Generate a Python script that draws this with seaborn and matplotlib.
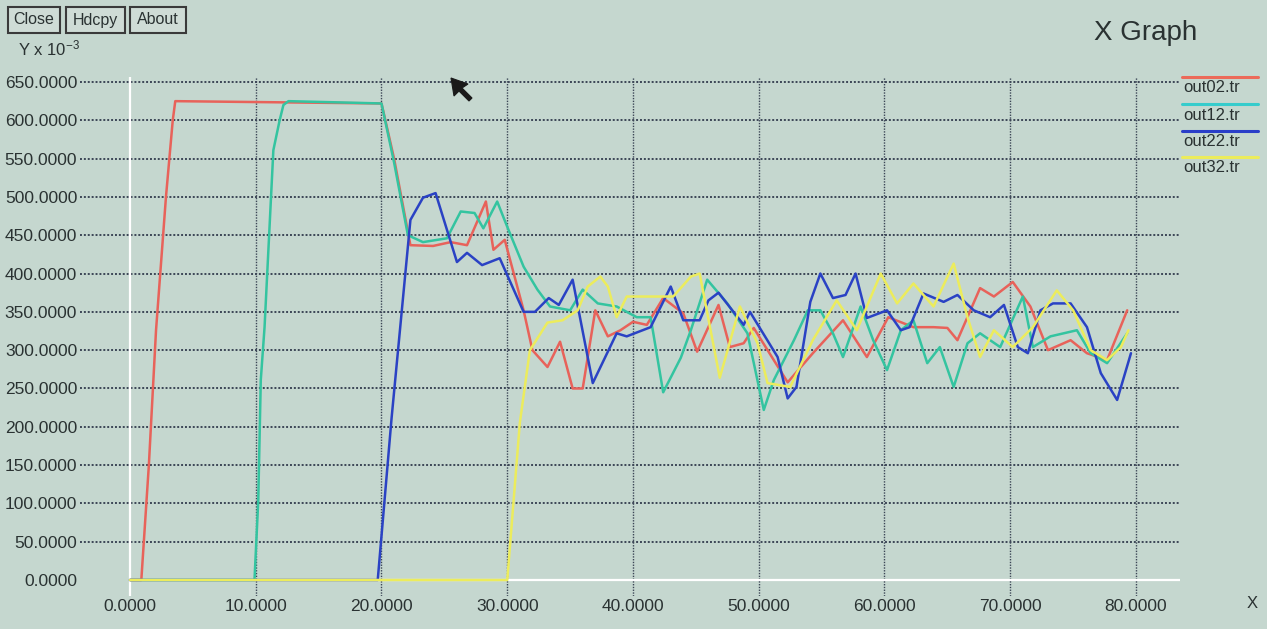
import matplotlib
matplotlib.use('Agg')
import numpy as np
import pandas as pd
import matplotlib.pyplot as plt
import seaborn as sns
from matplotlib.patches import Rectangle, Polygon
from matplotlib.lines import Line2D

# ---------------- data ----------------
series_names = ['out02.tr', 'out12.tr', 'out22.tr', 'out32.tr']

out02_x = [0, 0.9, 1.5, 2.07, 2.86, 3.4, 3.6, 20.0, 21.0, 22.3, 24.1, 25.5, 26.8, 28.3, 28.9,
           29.8, 31.3, 32.0, 33.2, 34.2, 35.2, 36.0, 37.0, 38.0, 39.0, 40.0, 41.1, 42.4,
           44.0, 45.1, 46.8, 47.7, 48.8, 49.6, 52.3, 54.3, 56.7, 58.6, 60.3, 62.3, 63.9,
           65.0, 65.8, 67.6, 68.7, 70.2, 71.6, 73.0, 74.8, 76.1, 77.7, 79.3]
out02_y = [0, 0, 150, 326, 500, 600, 625, 622, 550, 437, 436, 441, 437, 494, 431,
           444, 352, 300, 278, 311, 250, 250, 352, 318, 326, 337, 333, 368,
           348, 298, 359, 304, 309, 329, 258, 296, 339, 291, 343, 330, 330,
           329, 313, 381, 370, 389, 357, 300, 313, 296, 287, 352]

out12_x = [0, 9.9, 10.2, 10.4, 10.7, 11.4, 11.9, 12.2, 12.6, 20.0, 21.0, 22.1, 23.3, 25.2,
           26.3, 27.4, 28.1, 29.2, 30.0, 31.3, 32.4, 33.4, 35.0, 36.0, 37.2, 38.7, 40.3,
           41.4, 42.4, 43.8, 44.6, 45.9, 47.5, 49.1, 50.4, 51.2, 52.8, 53.9, 54.9, 55.9,
           56.7, 58.1, 59.1, 60.2, 61.3, 62.3, 63.4, 64.4, 65.5, 66.6, 67.6, 69.2, 71.0,
           71.8, 73.2, 75.3, 76.4, 77.7, 79.3]
out12_y = [0, 0, 104, 261, 330, 561, 600, 620, 625, 622, 545, 450, 441, 446,
           481, 479, 459, 494, 461, 409, 379, 357, 352, 379, 361, 357, 343,
           343, 245, 290, 326, 392, 361, 322, 222, 261, 313, 352, 352, 322,
           291, 357, 313, 274, 326, 339, 283, 304, 252, 309, 322, 304, 370,
           304, 318, 326, 296, 283, 322]

out22_x = [0, 19.7, 20.8, 22.3, 23.3, 24.3, 26.0, 26.8, 28.0, 29.4, 31.3, 32.2, 33.3, 34.1,
           35.2, 36.8, 38.7, 39.5, 41.4, 43.0, 44.0, 45.3, 46.0, 46.8, 48.8, 49.3, 51.5,
           52.3, 53.0, 54.1, 54.9, 55.9, 56.9, 57.7, 58.6, 60.2, 61.3, 62.0, 63.1, 64.7,
           65.8, 67.1, 68.4, 69.5, 70.6, 71.4, 72.4, 73.4, 74.8, 76.1, 77.2, 78.5, 79.6]
out22_y = [0, 0, 211, 470, 499, 505, 415, 427, 411, 420, 350, 350, 368, 359,
           392, 257, 322, 318, 330, 383, 339, 339, 365, 375, 333, 350, 291,
           237, 252, 363, 400, 368, 372, 400, 342, 352, 326, 330, 374, 363,
           372, 352, 343, 359, 304, 296, 352, 361, 361, 330, 270, 235, 296]

out32_x = [0, 30.0, 31.0, 31.8, 33.2, 34.4, 35.6, 36.4, 37.4, 38.0, 38.7, 39.5, 41.4, 43.2,
           44.6, 45.3, 46.9, 48.5, 49.9, 50.7, 52.5, 54.3, 56.2, 57.8, 59.7, 61.0, 62.3,
           63.9, 65.5, 66.6, 67.6, 68.7, 70.2, 71.8, 73.7, 75.0, 76.4, 77.7, 78.8, 79.4]
out32_y = [0, 0, 205, 300, 336, 339, 352, 383, 396, 383, 343, 370, 370, 370,
           396, 400, 264, 357, 309, 257, 252, 313, 365, 326, 400, 361, 387,
           357, 413, 343, 291, 326, 304, 330, 378, 352, 300, 287, 304, 326]

x_ticks = [0, 10, 20, 30, 40, 50, 60, 70, 80]
y_ticks = [0, 50, 100, 150, 200, 250, 300, 350, 400, 450, 500, 550, 600, 650]
button_labels = ['Close', 'Hdcpy', 'About']

# ---------------- styling ----------------
W, H = 1267, 629
BG = '#c5d7cf'
TXT = '#2a3232'
GRID = '#3c4656'
palette = {'out02.tr': '#e8625a', 'out12.tr': '#34c4a0',
           'out22.tr': '#2a42c4', 'out32.tr': '#ecec5c'}
legend_colors = {'out02.tr': '#ec6a5a', 'out12.tr': '#36cccc',
                 'out22.tr': '#2a3ec8', 'out32.tr': '#ecec5c'}

sns.set_style('white')
plt.rcParams['font.family'] = ['Liberation Sans', 'DejaVu Sans']
plt.rcParams['mathtext.default'] = 'regular'

frames = []
for name, xs, ys in [('out02.tr', out02_x, out02_y), ('out12.tr', out12_x, out12_y),
                     ('out22.tr', out22_x, out22_y), ('out32.tr', out32_x, out32_y)]:
    frames.append(pd.DataFrame({'x': xs, 'y': ys, 'series': name}))
df = pd.concat(frames, ignore_index=True)

fig = plt.figure(figsize=(W / 100, H / 100), dpi=100, facecolor=BG)


def fx(px):
    return px / W


def fy(py):
    return 1 - py / H


ax_left, ax_right, ax_top, ax_bottom = 80, 1180, 77, 596
ax = fig.add_axes([fx(ax_left), fy(ax_bottom), (ax_right - ax_left) / W, (ax_bottom - ax_top) / H])
ax.set_facecolor(BG)

px_per_x = (1136 - 130) / 80.0
px_per_y = (580 - 82) / 650.0
ax.set_xlim((ax_left - 130) / px_per_x, (ax_right - 130) / px_per_x)
ax.set_ylim((580 - ax_bottom) / px_per_y, (580 - ax_top) / px_per_y)

sns.lineplot(data=df, x='x', y='y', hue='series', palette=palette, hue_order=series_names,
             estimator=None, sort=False, linewidth=1.8, legend=False, ax=ax, zorder=3)

ax.set_xticks(x_ticks)
ax.set_yticks(y_ticks)
ax.set_xticklabels([f'{v:.4f}' for v in x_ticks])
ax.set_yticklabels([f'{v:.4f}' for v in y_ticks])
ax.tick_params(axis='both', length=0, labelsize=12.5, colors=TXT)
ax.tick_params(axis='y', pad=2)
ax.tick_params(axis='x', pad=2)
ax.set_xlabel('')
ax.set_ylabel('')
for s in ax.spines.values():
    s.set_visible(False)

ax.set_axisbelow(True)
ax.grid(axis='y', color=GRID, linestyle=(0, (1, 1)), linewidth=1.4)
ax.grid(axis='x', color=GRID, linestyle=(0, (1, 1)), linewidth=1.0)
ax.yaxis.get_gridlines()[0].set_visible(False)
ax.xaxis.get_gridlines()[0].set_visible(False)

x0, x1 = ax.get_xlim()
ax.axvline(0, color='white', lw=1.6, zorder=1)
ax.axhline(0, xmin=(0 - x0) / (x1 - x0), xmax=1, color='white', lw=1.6, zorder=1)

# ---------------- figure furniture ----------------
fig.text(fx(1146), fy(33), 'X Graph', fontsize=20, color=TXT, ha='center', va='center')
fig.text(fx(18), fy(48), 'Y x 10$^{-3}$', fontsize=12, color=TXT, ha='left', va='center')
fig.text(fx(1252), fy(603), 'X', fontsize=12, color=TXT, ha='center', va='center')

# buttons
button_boxes = [(8, 60), (66, 125), (130, 186)]
for lab, (bx0, bx1) in zip(button_labels, button_boxes):
    r = Rectangle((fx(bx0), fy(33)), fx(bx1 - bx0), (33 - 7) / H, transform=fig.transFigure,
                  facecolor='#cfdcd6', edgecolor='#3a3a3a', lw=1.5)
    fig.add_artist(r)
    fig.text(fx((bx0 + bx1) / 2), fy(20), lab, fontsize=11.5, color=TXT, ha='center', va='center')

# legend
leg_line_y = [77, 104, 131, 157]
leg_text_y = [88, 116, 142, 168]
for name, ly, ty in zip(series_names, leg_line_y, leg_text_y):
    fig.add_artist(Line2D([fx(1182), fx(1258)], [fy(ly), fy(ly)], transform=fig.transFigure,
                          color=legend_colors[name], lw=2.2))
    fig.text(fx(1183), fy(ty), name, fontsize=12, color=TXT, ha='left', va='center')

# mouse cursor
cursor = [(451, 78), (454, 96), (459, 91), (469, 101), (472, 98), (462, 88), (468, 84)]
fig.add_artist(Polygon([(fx(a), fy(b)) for a, b in cursor], closed=True, transform=fig.transFigure,
                       facecolor='#1a1a1a', edgecolor='#1a1a1a', lw=0.8))

fig.savefig('out.png', dpi=100, facecolor=BG)
